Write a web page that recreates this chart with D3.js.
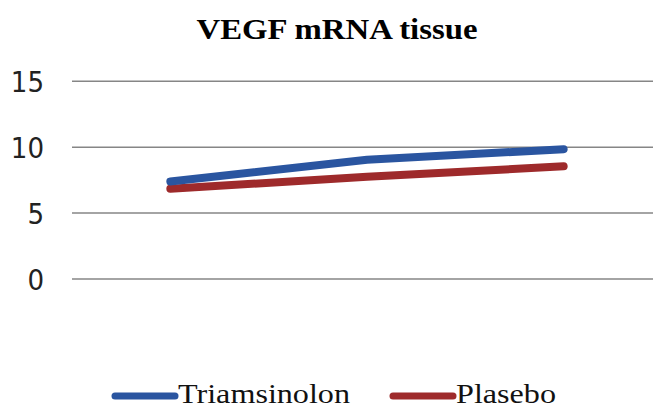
<!DOCTYPE html>
<html>
<head>
<meta charset="utf-8">
<script src="https://cdn.jsdelivr.net/npm/d3@7"></script>
<style>
    body { margin: 0; background: #fff; }
    .tick-label { font-family: "Liberation Sans Narrow", "DejaVu Sans Condensed", sans-serif; font-size: 29px; fill: #222; }
</style>
</head>
<body>
<div id="chart"></div>
<script>
var categories = ["1", "2", "3"];
var triamsinolon = [7.4, 9.05, 9.85];
var plasebo = [6.85, 7.75, 8.55];
var yTicks = [0, 5, 10, 15];

var series = [
    {name: "Triamsinolon", values: triamsinolon, color: "#2a55a0"},
    {name: "Plasebo", values: plasebo, color: "#9e2a2b"}
];

var width = 653, height = 410;
var svg = d3.select("#chart").append("svg")
        .attr("width", width)
        .attr("height", height);

// plot area runs past the right edge, as in the source picture
var x = d3.scalePoint()
        .domain(categories)
        .range([72, 662])
        .padding(0.5);

var y = d3.scaleLinear()
        .domain([0, 15])
        .range([279, 81.3]);

// title
svg.append("text")
        .attr("x", 337)
        .attr("y", 39)
        .attr("text-anchor", "middle")
        .attr("font-family", "Liberation Serif, serif")
        .attr("font-weight", "bold")
        .attr("font-size", 30)
        .attr("textLength", 281)
        .attr("lengthAdjust", "spacingAndGlyphs")
        .text("VEGF mRNA tissue");

// gridlines
svg.append("g").selectAll("line")
        .data(yTicks)
        .enter().append("line")
        .attr("x1", 72)
        .attr("x2", width)
        .attr("y1", function (d) { return y(d); })
        .attr("y2", function (d) { return y(d); })
        .attr("stroke", "#868686")
        .attr("stroke-width", 1.5);

// y labels
svg.append("g").selectAll("text")
        .data(yTicks)
        .enter().append("text")
        .attr("class", "tick-label")
        .attr("x", 44)
        .attr("y", function (d) { return y(d) + 11; })
        .attr("text-anchor", "end")
        .text(function (d) { return d; });

var line = d3.line()
        .x(function (d, i) { return x(categories[i]); })
        .y(function (d) { return y(d); });

// draw red first so blue sits on top
svg.append("g").selectAll("path")
        .data(series.slice().reverse())
        .enter().append("path")
        .attr("d", function (d) { return line(d.values); })
        .attr("fill", "none")
        .attr("stroke", function (d) { return d.color; })
        .attr("stroke-width", 8)
        .attr("stroke-linecap", "round")
        .attr("stroke-linejoin", "round");

// legend
var legendPos = [115, 393];
var legend = svg.append("g").selectAll("g")
        .data(series)
        .enter().append("g")
        .attr("transform", function (d, i) { return "translate(" + legendPos[i] + ",396)"; });

legend.append("line")
        .attr("x1", 0)
        .attr("x2", 60)
        .attr("stroke", function (d) { return d.color; })
        .attr("stroke-width", 7)
        .attr("stroke-linecap", "round");

legend.append("text")
        .attr("x", 63)
        .attr("y", 7)
        .attr("font-family", "Liberation Serif, serif")
        .attr("font-size", 28)
        .attr("fill", "#111")
        .attr("textLength", function (d, i) { return i === 0 ? 172 : 100; })
        .attr("lengthAdjust", "spacingAndGlyphs")
        .text(function (d) { return d.name; });
</script>
</body>
</html>
